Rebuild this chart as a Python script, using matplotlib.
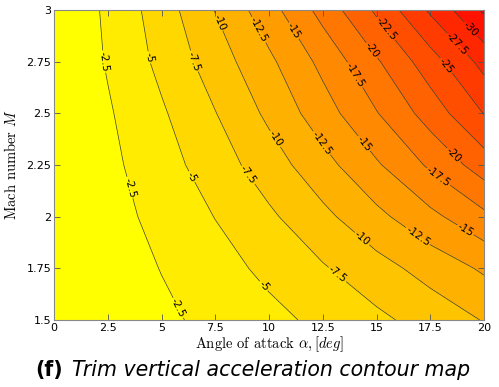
import numpy as np
import matplotlib
matplotlib.use("Agg")
import matplotlib.pyplot as plt
from matplotlib.colors import Normalize

plt.rcParams["mathtext.fontset"] = "cm"

# Angulo de ataque [deg] y numero de Mach de la malla
alpha = [0, 2.5, 5, 7.5, 10, 12.5, 15, 17.5, 20]
mach = [1.5, 1.75, 2.0, 2.25, 2.5, 2.75, 3.0]

# Aceleracion vertical de trim, una fila por cada Mach
acel_m150 = [0, -1.01, -2.03, -3.13, -4.32, -5.58, -6.95, -8.49, -10.13]
acel_m175 = [0, -1.28, -2.57, -4.04, -5.58, -7.26, -9.07, -10.94, -12.86]
acel_m200 = [0, -1.57, -3.23, -5.06, -7.07, -9.37, -11.84, -14.36, -16.91]
acel_m225 = [0, -1.88, -3.96, -6.28, -8.80, -11.61, -14.68, -17.90, -21.26]
acel_m250 = [0, -2.22, -4.68, -7.42, -10.52, -13.88, -17.36, -21.09, -25.08]
acel_m275 = [0, -2.71, -5.63, -8.74, -11.99, -15.67, -19.69, -23.88, -28.34]
acel_m300 = [0, -2.95, -6.24, -10.08, -14.01, -18.36, -22.92, -27.88, -32.90]

xticks = [0, 2.5, 5, 7.5, 10, 12.5, 15, 17.5, 20]
yticks = [1.5, 1.75, 2, 2.25, 2.5, 2.75, 3]

# Donde van las etiquetas de cada curva (alpha, Mach)
pos_etiquetas = [
    (2.3, 2.75), (4.4, 2.77), (6.44, 2.75), (7.65, 2.94), (9.45, 2.9),
    (11.0, 2.89), (13.9, 2.68), (14.6, 2.79), (15.3, 2.9), (18.1, 2.72),
    (18.6, 2.82), (19.3, 2.9),
    (3.5, 2.14), (6.35, 2.19), (9.0, 2.2), (10.2, 2.37), (12.5, 2.36),
    (14.5, 2.36), (18.0, 2.21), (18.8, 2.32),
    (14.3, 1.89), (16.95, 1.91), (19.2, 1.945), (13.1, 1.71), (9.7, 1.66),
    (5.8, 1.56),
]

A, M = np.meshgrid(alpha, mach)
Z = np.array([acel_m150, acel_m175, acel_m200, acel_m225,
              acel_m250, acel_m275, acel_m300])

niveles = np.arange(-35, 0.01, 2.5)
lineas = np.arange(-32.5, -2.4, 2.5)
medios = 0.5 * (niveles[:-1] + niveles[1:])

fig = plt.figure(figsize=(4.99, 3.87), dpi=100)
ax = fig.add_axes([54 / 499, 1 - 320 / 387, 430 / 499, 310 / 387])

ax.contourf(A, M, Z, levels=niveles, cmap="autumn",
            norm=Normalize(vmin=medios[0], vmax=medios[-1]))
cs = ax.contour(A, M, Z, levels=lineas, colors="#3a3a3a", linewidths=0.5,
                linestyles="solid")
ax.clabel(cs, manual=pos_etiquetas, fmt=lambda v: "-%g" % abs(v),
          fontsize=7.5, inline=True, inline_spacing=1, colors="black")

ax.set_xlim(0, 20)
ax.set_ylim(1.5, 3)
ax.set_xticks(xticks)
ax.set_yticks(yticks)
ax.set_xticklabels(["%g" % t for t in xticks])
ax.set_yticklabels(["%g" % t for t in yticks])
ax.tick_params(direction="in", length=4, width=0.6, color="#555555",
               top=True, right=True, labelsize=8, pad=2)
for s in ax.spines.values():
    s.set_color("#888888")
    s.set_linewidth(0.8)

ax.set_xlabel(r"Angle of attack $\alpha, [deg]$", family="cmr10",
              fontsize=10.5, labelpad=1)
ax.set_ylabel(r"Mach number $M$", family="cmr10", fontsize=10.5, labelpad=5)

# Pie de figura
fig.text(35 / 499, 1 - 370 / 387, "(f)", fontsize=14.8, fontweight="bold",
         va="center", ha="left", family="DejaVu Sans")
fig.text(72 / 499, 1 - 370 / 387, "Trim vertical acceleration contour map",
         fontsize=14.8, style="italic", va="center", ha="left",
         family="DejaVu Sans")

fig.savefig("out.png", dpi=100)
